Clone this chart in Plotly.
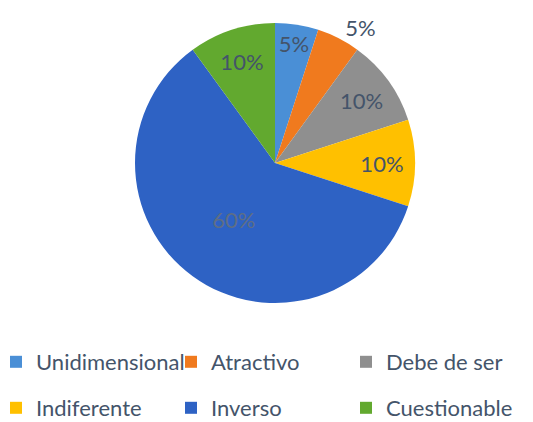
import plotly.graph_objects as go

categories = ["Unidimensional", "Atractivo", "Debe de ser", "Indiferente", "Inverso", "Cuestionable"]
values = [5, 5, 10, 10, 60, 10]
colors = ["#4A8FD6", "#F07A1E", "#8F8F8F", "#FFC000", "#2E62C4", "#62A92F"]
text_positions = ["inside", "outside", "inside", "inside", "inside", "inside"]
label_colors = ["#44546A", "#44546A", "#44546A", "#44546A", "#5E6E85", "#44546A"]
legend_rows = ["legend", "legend", "legend", "legend2", "legend2", "legend2"]

# the page has an 8px body margin: figure pixels = window pixels - 8
W, H = 525, 414
B = 110                # bottom margin reserved for the legend rows
HP = H - B             # plot-area height
FONT = "Lato, 'Open Sans', sans-serif"
TXT = "#44546A"

cx, cy, r = 267, 155, 140

fig = go.Figure()
fig.add_trace(go.Pie(
    labels=categories,
    values=values,
    sort=False,
    direction="clockwise",
    rotation=0,
    marker=dict(colors=colors, line=dict(width=0)),
    texttemplate="%{percent:.0%}",
    textposition=text_positions,
    insidetextorientation="horizontal",
    textfont=dict(family=FONT, size=22, color=label_colors),
    outsidetextfont=dict(family=FONT, size=22, color=TXT),
    domain=dict(x=[(cx - r) / W, (cx + r) / W], y=[(HP - cy - r) / HP, (HP - cy + r) / HP]),
    hoverinfo="label+percent",
    showlegend=False,
))

# legend entries (square swatches), split into two rows
for cat, col, lg in zip(categories, colors, legend_rows):
    fig.add_trace(go.Scatter(
        x=[None], y=[None], mode="markers", name=cat,
        marker=dict(symbol="square", size=12, color=col),
        legend=lg, showlegend=True, hoverinfo="skip",
    ))

leg_common = dict(
    orientation="h",
    xanchor="left", yanchor="middle",
    font=dict(family=FONT, size=22, color=TXT),
    entrywidth=130, entrywidthmode="pixels",
    itemwidth=30,
    traceorder="normal",
    bgcolor="rgba(0,0,0,0)",
)

fig.update_layout(
    width=W, height=H,
    margin=dict(l=0, r=0, t=0, b=B, autoexpand=False),
    paper_bgcolor="white",
    plot_bgcolor="white",
    uniformtext=dict(minsize=22, mode="show"),
    xaxis=dict(visible=False),
    yaxis=dict(visible=False),
    legend=dict(x=-12 / W, y=(HP - 354) / HP, **leg_common),
    legend2=dict(x=-12 / W, y=(HP - 400) / HP, **leg_common),
)

fig.write_html("out.html")
